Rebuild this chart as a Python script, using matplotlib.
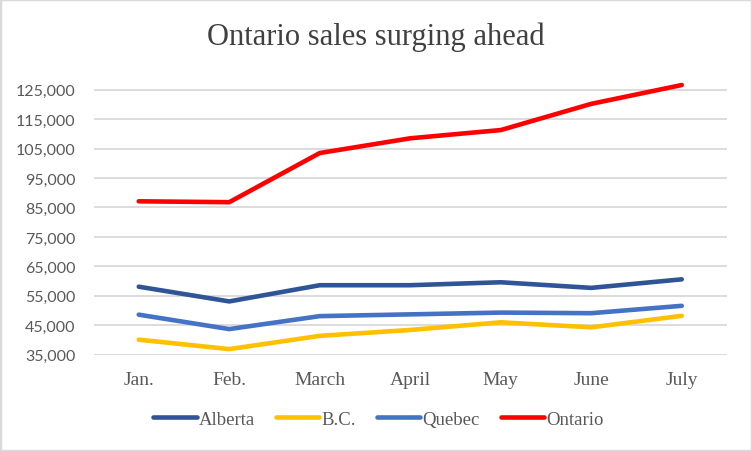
import matplotlib.pyplot as plt
import numpy as np

months = ["Jan.", "Feb.", "March", "April", "May", "June", "July"]
alberta = [58100, 53100, 58600, 58600, 59600, 57700, 60600]
bc = [40100, 36900, 41400, 43400, 46000, 44300, 48200]
quebec = [48600, 43700, 48100, 48700, 49300, 49100, 51600]
ontario = [87100, 86800, 103500, 108500, 111300, 120200, 126600]

series = [
    ("Alberta", alberta, "#2F5597"),
    ("B.C.", bc, "#FFC000"),
    ("Quebec", quebec, "#4472C4"),
    ("Ontario", ontario, "#FF0000"),
]

plt.rcParams['font.family'] = ['Liberation Serif', 'DejaVu Serif']
text_col = '#595959'

fig = plt.figure(figsize=(7.52, 4.52), dpi=100)
ax = fig.add_axes([93.5 / 752, 1 - 355.7 / 452, (727 - 93.5) / 752, (355.7 - 76) / 452])

x = np.arange(len(months))
for name, vals, col in series:
    ax.plot(x, vals, color=col, linewidth=3.3, label=name, solid_capstyle='round')

ax.set_xlim(-0.5, len(months) - 0.5)
ax.set_ylim(35000, 130000)
ax.set_yticks(np.arange(35000, 125001, 10000))
ax.yaxis.set_major_formatter(plt.FuncFormatter(lambda v, p: f"{int(v):,}"))
ax.set_xticks(x)
ax.set_xticklabels(months)
ax.tick_params(axis='both', length=0, colors=text_col)
ax.tick_params(axis='x', pad=12, labelsize=14)
ax.tick_params(axis='y', pad=13, labelsize=11.5)
for lab in ax.get_yticklabels():
    lab.set_fontfamily(['Lato', 'DejaVu Sans'])
ax.grid(axis='y', color='#D9D9D9', linewidth=1.3)
ax.set_axisbelow(True)
for s in ax.spines.values():
    s.set_visible(False)

fig.text(0.5, 1 - 45 / 452, "Ontario sales surging ahead", ha='center', va='baseline',
         fontsize=22, color='#404040')

handles, labels = ax.get_legend_handles_labels()
leg = fig.legend(handles, labels, loc='center', bbox_to_anchor=(378.5 / 752, 1 - 420 / 452),
                 ncol=4, frameon=False, fontsize=13.5, handlelength=2.3,
                 handletextpad=0.1, columnspacing=1.15)
for t in leg.get_texts():
    t.set_color(text_col)

fig.patches.append(plt.Rectangle((0, 0), 1, 1, transform=fig.transFigure,
                                 fill=False, edgecolor='#D9D9D9', linewidth=2.5))

fig.savefig("out.png", dpi=100)
